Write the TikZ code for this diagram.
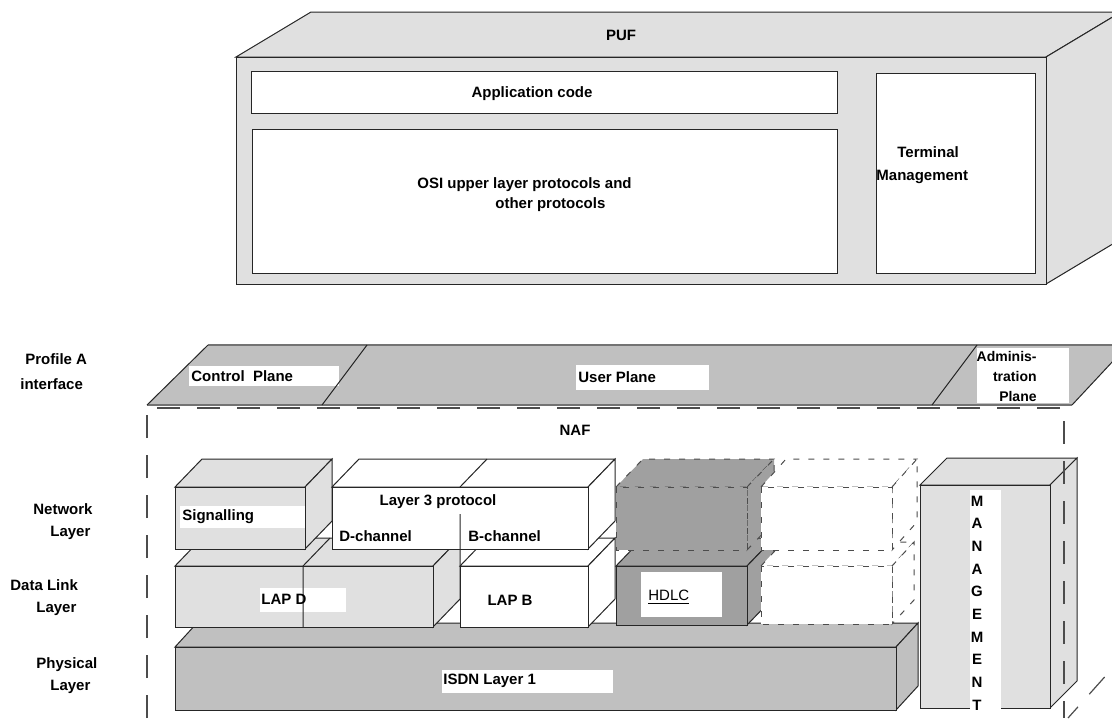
\documentclass[tikz,border=0pt]{standalone}
\usepackage{fontspec}
\setmainfont{Liberation Sans}
\definecolor{panel}{HTML}{E0E0E0}
\definecolor{slab}{HTML}{C0C0C0}
\definecolor{dark}{HTML}{A0A0A0}
% front face (#2,#3)-(#4,#5), depth (#6,#7)
\newcommand{\layerbox}[7][]{%
  \filldraw[#1] (#2,#3) -- ++(#6,#7) -- ++({#4-#2},0) -- (#4,#3) -- cycle;
  \filldraw[#1] (#4,#3) -- ++(#6,#7) -- ++(0,{#5-#3}) -- (#4,#5) -- cycle;
  \filldraw[#1] (#2,#3) rectangle (#4,#5);
}
\begin{document}
\begin{tikzpicture}[
  x=0.5pt,
  y=-0.5pt,
  font=\fontsize{7.5}{10}\selectfont\bfseries,
  edge/.style={draw=black!85, line width=0.5pt},
  ghost/.style={draw=black!70, line width=0.5pt, dash pattern=on 3pt off 4.5pt},
  naf/.style={draw=black!70, line width=0.6pt, dash pattern=on 11.5pt off 8.5pt},
  txt/.style={inner sep=0pt, anchor=west, align=left}
]
\useasboundingbox (0,0) rectangle (1112,718);
\clip (0,0) rectangle (1112,718);

% PUF
\layerbox[edge, fill=panel]{236}{57}{1046}{284}{75}{-45}
\filldraw[edge, fill=white] (251,71) rectangle (837,113);
\filldraw[edge, fill=white] (252,129) rectangle (837,273);
\filldraw[edge, fill=white] (876,73) rectangle (1035,273);
\node (puf) at (621,35) {PUF};
\node (appcode) at (532,94) {Application code};
\node[txt] (osi) at (417,195) {OSI upper layer protocols and\\\hspace*{39pt}other protocols};
\node[txt] (term) at (876,165.5) {\hspace*{10.5pt}Terminal\\[1.5pt]Management};

% Profile A interface planes
\fill[slab] (147,405) -- (208,345) -- (1128,345) -- (1072,405) -- cycle;
\fill[white] (189,366) rectangle (339,386);
\fill[white] (576,365) rectangle (709,390);
\fill[white] (977,348) rectangle (1069,403);
\draw[black!55, line width=1pt] (208,345) -- (1128,345);
\draw[black!55, line width=1pt] (147,405) -- (1072,405);
\draw[edge] (147,405) -- (208,345);
\draw[edge] (322,405) -- (367,345);
\draw[edge] (932,405) -- (977,345);
\draw[edge] (1072,405) -- (1128,345);
\node[txt] (profile) at (20,372) {\hspace*{2.5pt}Profile A\\[2.5pt]interface};
\node[txt] (ctrl) at (191,376) {Control\ \ Plane};
\node[txt] (user) at (578,377) {User Plane};
\node[inner sep=0pt, anchor=east, align=right, font=\fontsize{7}{10}\selectfont\bfseries] (admin) at (1037,376) {Adminis-\\tration\\Plane};
\node (naf) at (575,430) {NAF};

% layer names
\node[txt] (netlayer) at (33,522) {Network\\[1pt]\hspace*{8.5pt}Layer};
\node[txt] (dllayer) at (10,598) {Data Link\\[1pt]\hspace*{13pt}Layer};
\node[txt] (phylayer) at (36,676) {Physical\\[1pt]\hspace*{7pt}Layer};

% physical layer
\layerbox[edge, fill=slab]{175}{647}{896}{710}{22}{-24}
\fill[white] (442,670) rectangle (613,693);
\node[txt] (isdn) at (443,681) {ISDN Layer 1};

% data link layer
\layerbox[edge, fill=panel]{175}{566}{433}{627}{27}{-28}
\fill[white] (260,588) rectangle (346,612);
\draw[edge] (303,566) -- ++(27,-28) (303,566) -- (303,627);
\node[txt] (lapd) at (261,599) {LAP D};
\layerbox[edge, fill=white]{460}{566}{588}{627}{27}{-28}
\node (lapb) at (510,600) {LAP B};
\layerbox[edge, fill=dark]{616}{566}{747}{625}{27}{-28}
\fill[white] (641,572) rectangle (722,617);
\node[txt, font=\fontsize{7.5}{10}\selectfont\mdseries] (hdlc) at (648,597) {\underline{HDLC}};
\layerbox[ghost, fill=white]{761}{566}{892}{624}{22}{-24}

% network layer
\layerbox[edge, fill=panel]{175}{487}{305}{549}{27}{-28}
\fill[white] (180,506) rectangle (305,528);
\node[txt] (sig) at (182,517) {Signalling};
\layerbox[edge, fill=white]{332}{487}{588}{549}{27}{-28}
\draw[edge] (460,487) -- ++(27,-28) (460,514) -- (460,549);
\node (l3) at (438,502) {Layer 3 protocol};
\node[txt] (dch) at (339,536) {D-channel};
\node[txt] (bch) at (468,536) {B-channel};
\layerbox[ghost, fill=dark]{616}{487}{747}{550}{27}{-28}
\layerbox[ghost, fill=white]{761}{487}{892}{550}{25}{-28}

% management
\layerbox[edge, fill=panel]{920}{485}{1050}{708}{27}{-27}
\fill[white] (970,490) rectangle (1001,712);
\node[inner sep=0pt, align=center, font=\fontsize{7.5}{11.35}\selectfont\bfseries] (mgmt) at (977,603) {M\\A\\N\\A\\G\\E\\M\\E\\N\\T};

% NAF frame
\draw[naf] (147,718) -- (147,408) -- (1064,408) -- (1064,718);
\draw[naf, dash phase=4pt] (1068,718) -- (1118,662);
\end{tikzpicture}
\end{document}
